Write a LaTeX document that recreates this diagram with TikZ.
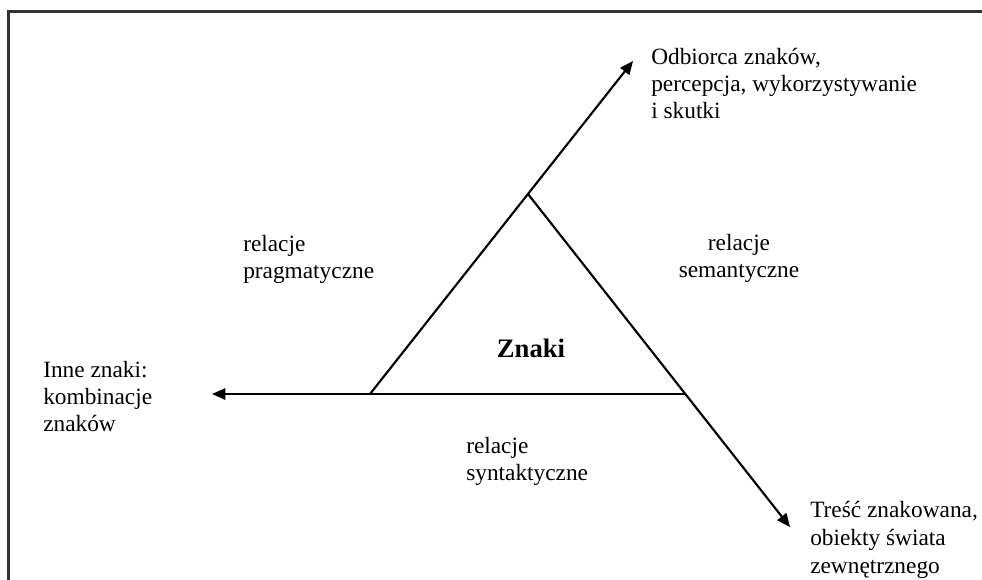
\documentclass[tikz,border=0pt]{standalone}
\usepackage{fontspec}
\setmainfont{Liberation Serif}
\usetikzlibrary{arrows.meta}
\tikzset{
  lbl/.style={inner sep=0pt, align=left, anchor=base west, font=\fontsize{17.5}{20.25}\selectfont},
  arr/.style={line width=1.6pt, -{Triangle[length=10pt,width=8.5pt]}}
}
\begin{document}
\begin{tikzpicture}[x=0.75pt,y=-0.75pt]
  \useasboundingbox (0,0) rectangle (982,579);
  \draw[line width=1.6pt, black!80] (8.5,600) -- (8.5,11.5) -- (1000,11.5);
  \coordinate (top) at (528,194);
  \coordinate (lft) at (370,394);
  \coordinate (rgt) at (686,394);
  \coordinate (tipUp) at (633,61);
  \coordinate (tipLeft) at (212,394);
  \coordinate (tipDown) at (790,527);
  \node[lbl] (odbiorca) at (651,118) {Odbiorca znaków,\\percepcja, wykorzystywanie\\i skutki};
  \node[lbl] (inne) at (43,431) {Inne znaki:\\kombinacje\\znaków};
  \node[lbl, font=\fontsize{17.5}{21}\selectfont] (tresc) at (810,573) {Treść znakowana,\\obiekty świata\\zewnętrznego};
  \node[lbl] (pragm) at (243,278) {relacje\\pragmatyczne};
  \node[lbl, align=center, anchor=base] (seman) at (739,277) {relacje\\semantyczne};
  \node[lbl] (synt) at (466,480) {relacje\\syntaktyczne};
  \node[inner sep=0pt, anchor=base, font=\fontsize{20}{24}\selectfont\bfseries] (znaki) at (531,357) {Znaki};
  \draw[arr] (lft) -- (tipUp);
  \draw[arr] (rgt) -- (tipLeft);
  \draw[arr] (top) -- (tipDown);
\end{tikzpicture}
\end{document}
